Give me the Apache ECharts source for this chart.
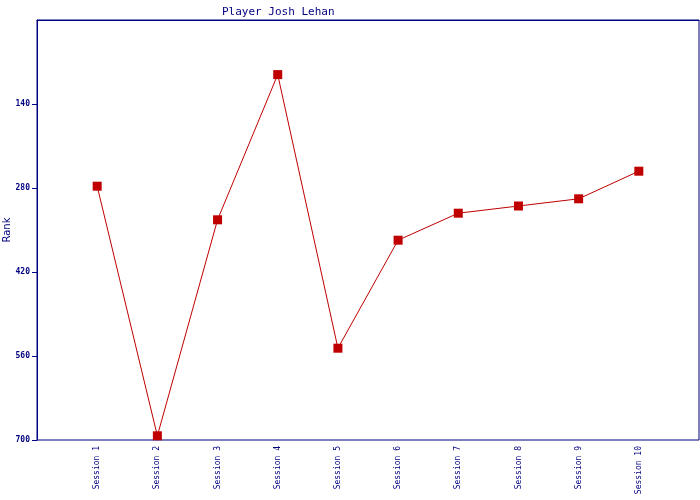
<!DOCTYPE html>
<html>
<head>
<meta charset="utf-8">
<script src="https://cdn.jsdelivr.net/npm/echarts@6/dist/echarts.min.js"></script>
<style>html,body{margin:0;padding:0;background:#fff}#c{width:700px;height:500px}</style>
</head>
<body>
<div id="c"></div>
<script>
const categories = ['', 'Session 1', 'Session 2', 'Session 3', 'Session 4', 'Session 5', 'Session 6', 'Session 7', 'Session 8', 'Session 9', 'Session 10', ''];
const ranks = [null, 277, 693, 333, 91, 547, 367, 322, 310, 298, 252, null];
const yTicks = [0, 140, 280, 420, 560, 700];

const navy = '#000080';
const red = '#c00000';
const chart = echarts.init(document.getElementById('c'));
chart.setOption({
  animation: false,
  title: {
    text: 'Player Josh Lehan',
    left: 217, top: 2,
    textStyle: { fontFamily: 'DejaVu Sans Mono', fontSize: 11, fontWeight: 'normal', color: navy }
  },
  grid: { left: 37, top: 20, right: 1, bottom: 60, show: true, borderColor: navy, borderWidth: 1, backgroundColor: '#fff',
    containLabel: false, outerBoundsMode: 'none' },
  xAxis: {
    type: 'category', data: categories, boundaryGap: false,
    axisLine: { show: true, lineStyle: { color: navy } },
    axisTick: { show: false },
    splitLine: { show: false },
    axisLabel: { rotate: 90, interval: 0, margin: 6, fontFamily: 'DejaVu Sans Mono', fontSize: 8, color: navy }
  },
  yAxis: {
    type: 'value', inverse: true, min: yTicks[0], max: yTicks[yTicks.length - 1], interval: 140,
    name: 'Rank', nameLocation: 'middle', nameGap: 25, nameRotate: 90, nameMoveOverlap: false,
    nameTextStyle: { fontFamily: 'DejaVu Sans', fontSize: 10, color: navy },
    axisLine: { show: true, onZero: false, lineStyle: { color: navy } },
    axisTick: { show: true, inside: false, length: 5, lineStyle: { color: navy, width: 1 } },
    splitLine: { show: false },
    axisLabel: { margin: 7, fontFamily: 'DejaVu Sans Mono', fontSize: 8, fontWeight: 'bold', color: navy,
      showMinLabel: false }
  },
  series: [{
    type: 'line', data: ranks, connectNulls: false,
    symbol: 'rect', symbolSize: 9,
    lineStyle: { color: red, width: 1 },
    itemStyle: { color: red },
    clip: false
  }]
});
</script>
</body>
</html>
